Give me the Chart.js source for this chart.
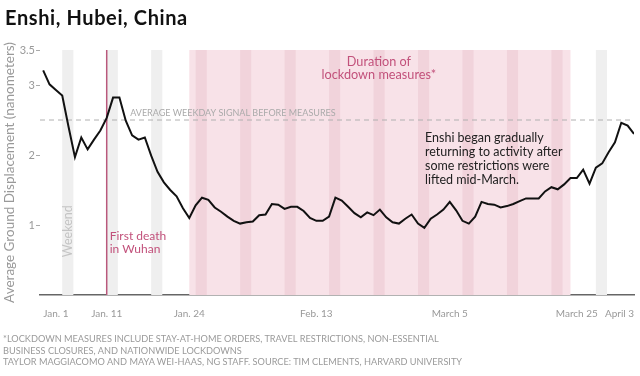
<!DOCTYPE html>
<html>
<head>
<meta charset="utf-8">
<script src="https://cdn.jsdelivr.net/npm/chart.js@4.4.1/dist/chart.umd.min.js"></script>
<style>
  body { margin: 0; background: #fff; font-family: Lato, sans-serif; }
  #wrap { position: relative; width: 640px; height: 376px; overflow: hidden; }
  #chart { position: absolute; left: 0; top: 0; }
  h1 { position: absolute; left: 5px; top: 5px; margin: 0; font-size: 20px; letter-spacing: 0.6px; font-weight: 700; color: #111; }
  .notes { position: absolute; left: 3px; top: 333px; font-size: 9.2px; line-height: 11.5px; color: #9a9a9a; white-space: nowrap; }
</style>
</head>
<body>
<div id="wrap">
  <canvas id="chart" width="640" height="376"></canvas>
  <h1>Enshi, Hubei, China</h1>
  <div class="notes">
    *LOCKDOWN MEASURES INCLUDE STAY-AT-HOME ORDERS, TRAVEL RESTRICTIONS, NON-ESSENTIAL<br>
    BUSINESS CLOSURES, AND NATIONWIDE LOCKDOWNS<br>
    TAYLOR MAGGIACOMO AND MAYA WEI-HAAS, NG STAFF. SOURCE: TIM CLEMENTS, HARVARD UNIVERSITY
  </div>
</div>
<script>
// day 0 = Jan. 1, day 93 = April 3
const displacement = [
  3.21, 3.01, 2.93, 2.85, 2.40, 1.97, 2.25, 2.08, 2.22, 2.35,
  2.53, 2.82, 2.82, 2.49, 2.28, 2.22, 2.25, 1.99, 1.76, 1.61,
  1.50, 1.41, 1.24, 1.10, 1.28, 1.39, 1.36, 1.25, 1.19, 1.12,
  1.06, 1.02, 1.04, 1.05, 1.14, 1.15, 1.30, 1.29, 1.23, 1.26,
  1.26, 1.20, 1.10, 1.06, 1.06, 1.12, 1.39, 1.35, 1.26, 1.17,
  1.11, 1.18, 1.14, 1.22, 1.11, 1.04, 1.02, 1.09, 1.15, 1.02,
  0.96, 1.09, 1.15, 1.22, 1.33, 1.21, 1.06, 1.02, 1.12, 1.33,
  1.30, 1.29, 1.25, 1.27, 1.30, 1.34, 1.38, 1.38, 1.38, 1.48,
  1.54, 1.51, 1.58, 1.67, 1.67, 1.79, 1.59, 1.82, 1.88, 2.04,
  2.18, 2.46, 2.42, 2.30
];

const tickDays = [0, 10, 23, 43, 64, 84, 93];
const tickLabels = ['Jan. 1', 'Jan. 11', 'Jan. 24', 'Feb. 13', 'March 5', 'March 25', 'April 3'];
const yTicks = [1, 2, 3, 3.5];

const weekendStarts = [3, 10, 17, 24, 31, 38, 45, 52, 59, 66, 73, 80, 87];
const weekendLength = 1.75;
const lockdown = [23, 83];
const firstDeath = 10;
const baseline = 2.5;

const pink = '#c2517b';

const backdrop = {
    id: 'backdrop',
    beforeDatasetsDraw(chart) {
        const { ctx, chartArea: area, scales: { x, y } } = chart;
        const h = area.bottom - area.top;
        ctx.save();

        // lockdown period and weekends
        ctx.fillStyle = '#f8e2e8';
        ctx.fillRect(x.getPixelForValue(lockdown[0]), area.top,
            x.getPixelForValue(lockdown[1]) - x.getPixelForValue(lockdown[0]), h);
        weekendStarts.forEach(d => {
            const inside = d >= lockdown[0] && d < lockdown[1];
            ctx.fillStyle = inside ? '#f1d3db' : '#efefef';
            const x0 = x.getPixelForValue(d);
            ctx.fillRect(x0, area.top, x.getPixelForValue(d + weekendLength) - x0, h);
        });

        // average weekday signal
        ctx.strokeStyle = '#b0b0b0';
        ctx.lineWidth = 1;
        ctx.setLineDash([5, 4]);
        ctx.beginPath();
        ctx.moveTo(area.left, y.getPixelForValue(baseline));
        ctx.lineTo(area.right, y.getPixelForValue(baseline));
        ctx.stroke();
        ctx.setLineDash([]);

        // first death
        const xd = x.getPixelForValue(firstDeath);
        ctx.strokeStyle = '#b9587c';
        ctx.lineWidth = 1.5;
        ctx.beginPath();
        ctx.moveTo(xd, area.top);
        ctx.lineTo(xd, area.bottom);
        ctx.stroke();

        ctx.textBaseline = 'middle';

        ctx.fillStyle = pink;
        ctx.font = '12.7px Lato';
        ctx.textAlign = 'center';
        const xm = x.getPixelForValue((lockdown[0] + lockdown[1]) / 2);
        ctx.fillText('Duration of', xm - 1, area.top + 12);
        ctx.fillText('lockdown measures*', xm - 1, area.top + 25);

        ctx.textAlign = 'left';
        ctx.font = '12px Lato';
        const yd = y.getPixelForValue(0.84);
        ctx.fillText('First death', xd + 3, yd);
        ctx.fillText('in Wuhan', xd + 3, yd + 12.5);

        ctx.fillStyle = '#aaaaaa';
        ctx.font = '9px Lato';
        ctx.fillText('AVERAGE WEEKDAY SIGNAL BEFORE MEASURES', x.getPixelForValue(13.7), y.getPixelForValue(baseline) - 7);

        ctx.fillStyle = '#222';
        ctx.font = '12.5px Lato';
        const note = ['Enshi began gradually', 'returning to activity after', 'some restrictions were', 'lifted mid-March.'];
        note.forEach((line, i) => {
            ctx.fillText(line, x.getPixelForValue(60.1), y.getPixelForValue(baseline) + 17.5 + i * 14);
        });

        ctx.fillStyle = '#c4c4c4';
        ctx.font = '12.5px Lato';
        ctx.translate(x.getPixelForValue(3 + weekendLength / 2), y.getPixelForValue(0.91));
        ctx.rotate(-Math.PI / 2);
        ctx.textAlign = 'center';
        ctx.fillText('Weekend', 0, 0);

        ctx.restore();
    }
};

new Chart(document.getElementById('chart'), {
    type: 'line',
    data: {
        datasets: [{
            data: displacement.map((v, i) => ({ x: i, y: v })),
            borderColor: '#111',
            borderWidth: 2,
            pointRadius: 0,
            tension: 0
        }]
    },
    options: {
        responsive: false,
        animation: false,
        layout: { padding: { top: 50, right: 6, bottom: 51, left: 0 } },
        plugins: {
            legend: { display: false },
            tooltip: { enabled: false }
        },
        scales: {
            x: {
                type: 'linear',
                min: -0.5,
                max: 93,
                afterFit: scale => { scale.height = 30; },
                afterBuildTicks: scale => { scale.ticks = tickDays.map(v => ({ value: v })); },
                grid: { display: false },
                border: { display: true, color: '#666', width: 1.5 },
                ticks: {
                    autoSkip: false,
                    maxRotation: 0,
                    align: 'inner',
                    padding: 5,
                    color: '#999',
                    font: { family: 'Lato', size: 10 },
                    callback: (value, index) => tickLabels[index]
                }
            },
            y: {
                min: 0,
                max: 3.5,
                afterFit: scale => { scale.width = 40; },
                afterBuildTicks: scale => { scale.ticks = yTicks.map(v => ({ value: v })); },
                grid: { drawOnChartArea: false, tickLength: 4, tickColor: '#aaa' },
                border: { display: false },
                ticks: {
                    padding: 1,
                    color: '#999',
                    font: { family: 'Lato', size: 11 }
                },
                title: {
                    display: true,
                    text: 'Average Ground Displacement (nanometers)',
                    color: '#999',
                    font: { family: 'Lato', size: 13.5 },
                    padding: { top: 2, bottom: 0 }
                }
            }
        }
    },
    plugins: [backdrop]
});
</script>
</body>
</html>
